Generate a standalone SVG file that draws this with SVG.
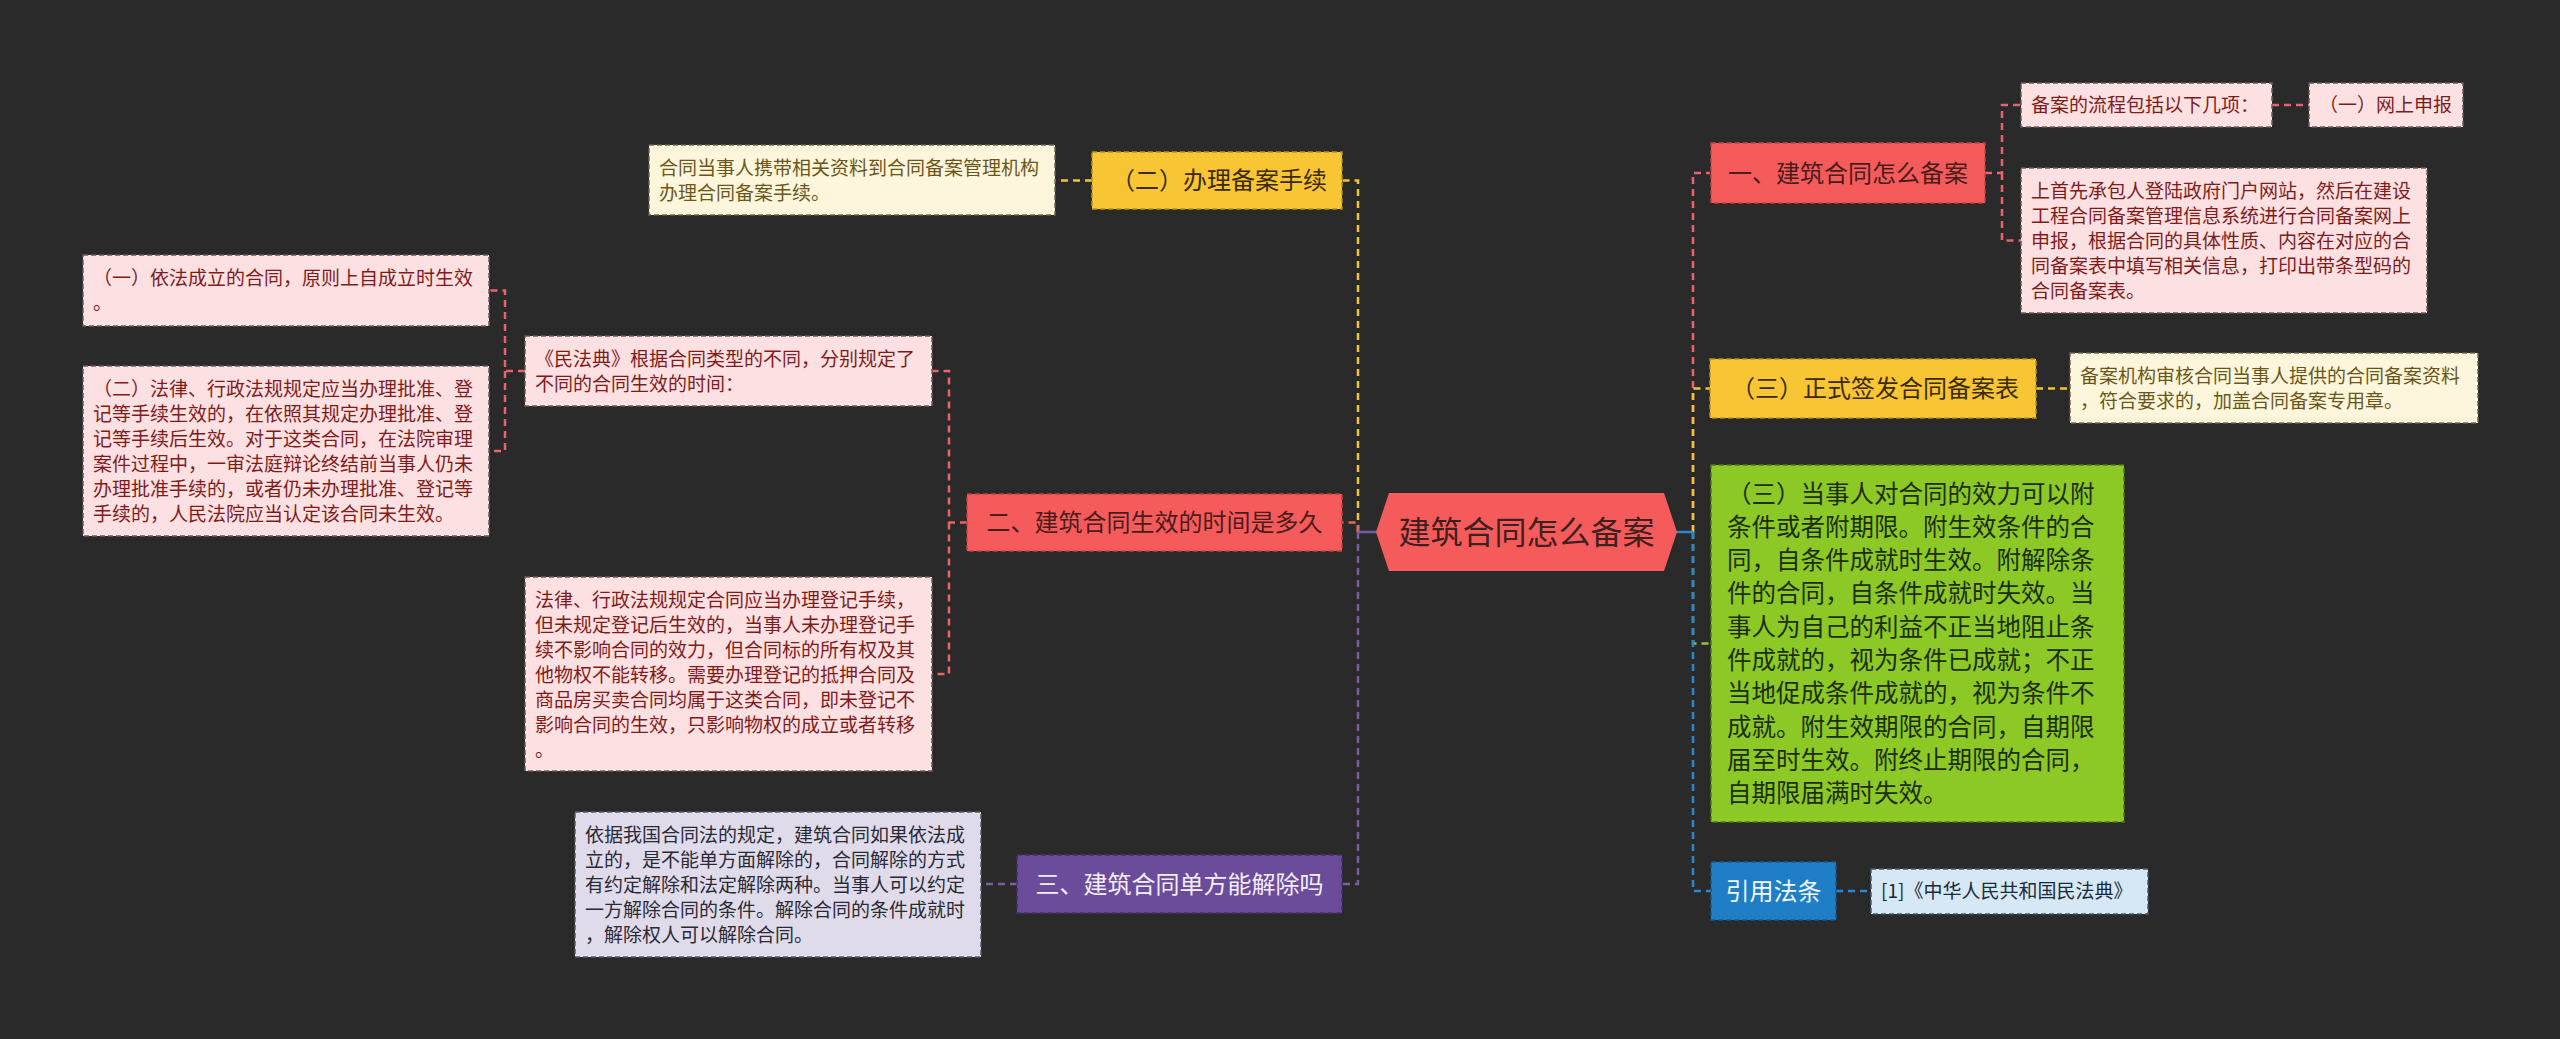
<svg xmlns="http://www.w3.org/2000/svg" width="2560" height="1039" viewBox="0 0 2560 1039">
<style>
text{font-family:"Noto Sans CJK SC","Noto Sans",sans-serif;}
.s{font-size:19px;}
.l1{font-size:24px;text-anchor:middle;}
.c{fill:none;stroke-width:2.5;stroke-dasharray:7 5;}
.cr{stroke:#e8646a;}.cy{stroke:#f2c335;}.cp{stroke:#7b5aa6;}.cg{stroke:#8cc63f;}.cb{stroke:#2a88d0;}
.pink{fill:#fde0e1;stroke:#6a5a5a;stroke-width:1.5;stroke-dasharray:5 3;}
.pt{fill:#7e1c1c;}
.cream{fill:#fdf6dc;stroke:#6a6450;stroke-width:1.5;stroke-dasharray:5 3;}
.ct{fill:#6b5618;}
.red{fill:#f65b5b;stroke:#c84040;stroke-width:1.5;stroke-dasharray:5 3;}
.rt{fill:#4a1c1c;}
.yel{fill:#f8c535;stroke:#b8901c;stroke-width:1.5;stroke-dasharray:5 3;}
.yt{fill:#3a2a05;}
</style>
<rect width="2560" height="1039" fill="#2a2a2a"/>
<g id="connectors">
<path class="c cy" d="M1358 532V180.5H1342"/>
<path class="c cr" d="M1358 532V522.5H1342"/>
<path class="c cp" d="M1358 532V884H1342"/>
<path d="M1358 532H1377" stroke="#7b5aa6" stroke-width="2.5"/>
<path class="c cy" d="M1092 180.5H1055"/>
<path class="c cr" d="M967 522.5H949V371H932M949 522.5V674H932"/>
<path class="c cr" d="M525 371H505V290.5H489M505 371V451H489"/>
<path class="c cp" d="M1017 884H981"/>
<path class="c cr" d="M1693 532V173H1710"/>
<path class="c cy" d="M1693 532V388.5H1710"/>
<path class="c cg" d="M1693 532V643.5H1711"/>
<path class="c cb" d="M1693 532V891H1711"/>
<path d="M1676 532H1693" stroke="#2a88d0" stroke-width="2.5"/>
<path class="c cr" d="M1985 173H2002V105H2021M2002 173V240.5H2021"/>
<path class="c cr" d="M2272 105H2309"/>
<path class="c cy" d="M2036 388.5H2070"/>
<path class="c cb" d="M1836 891H1871"/>
</g>
<g id="center">
<polygon points="1376,532 1389,493 1664,493 1677,532 1664,571 1389,571" fill="#f65b5b"/>
<text x="1526.5" y="543.5" font-size="32" text-anchor="middle" fill="#3d2020">建筑合同怎么备案</text>
</g>
<g id="n-banli">
<rect class="yel" x="1092" y="152" width="250" height="57"/>
<text class="l1 yt" x="1219" y="189">（二）办理备案手续</text>
</g>
<g id="n-banli-d">
<rect class="cream" x="649" y="145" width="406" height="70"/>
<text class="s ct" x="659" y="175">合同当事人携带相关资料到合同备案管理机构</text>
<text class="s ct" x="659" y="200">办理合同备案手续。</text>
</g>
<g id="n-er">
<rect class="red" x="967" y="494" width="375" height="57"/>
<text class="l1 rt" x="1154.5" y="531">二、建筑合同生效的时间是多久</text>
</g>
<g id="n-minfadian">
<rect class="pink" x="525" y="336" width="407" height="70"/>
<text class="s pt" x="535" y="366">《民法典》根据合同类型的不同，分别规定了</text>
<text class="s pt" x="535" y="391">不同的合同生效的时间：</text>
</g>
<g id="n-yi-1">
<rect class="pink" x="83" y="255" width="406" height="71"/>
<text class="s pt" x="93" y="285">（一）依法成立的合同，原则上自成立时生效</text>
<text class="s pt" x="93" y="310">。</text>
</g>
<g id="n-er-2">
<rect class="pink" x="83" y="366" width="406" height="170"/>
<text class="s pt" x="93" y="396">（二）法律、行政法规规定应当办理批准、登</text>
<text class="s pt" x="93" y="421">记等手续生效的，在依照其规定办理批准、登</text>
<text class="s pt" x="93" y="446">记等手续后生效。对于这类合同，在法院审理</text>
<text class="s pt" x="93" y="471">案件过程中，一审法庭辩论终结前当事人仍未</text>
<text class="s pt" x="93" y="496">办理批准手续的，或者仍未办理批准、登记等</text>
<text class="s pt" x="93" y="521">手续的，人民法院应当认定该合同未生效。</text>
</g>
<g id="n-dengji">
<rect class="pink" x="525" y="577" width="407" height="194"/>
<text class="s pt" x="535" y="607">法律、行政法规规定合同应当办理登记手续，</text>
<text class="s pt" x="535" y="632">但未规定登记后生效的，当事人未办理登记手</text>
<text class="s pt" x="535" y="657">续不影响合同的效力，但合同标的所有权及其</text>
<text class="s pt" x="535" y="682">他物权不能转移。需要办理登记的抵押合同及</text>
<text class="s pt" x="535" y="707">商品房买卖合同均属于这类合同，即未登记不</text>
<text class="s pt" x="535" y="732">影响合同的生效，只影响物权的成立或者转移</text>
<text class="s pt" x="535" y="757">。</text>
</g>
<g id="n-san">
<rect x="1017" y="855" width="325" height="58" fill="#6b4c9b" stroke="#4a3070" stroke-width="1.5" stroke-dasharray="5 3"/>
<text class="l1" x="1179.5" y="893" fill="#f4eefa">三、建筑合同单方能解除吗</text>
</g>
<g id="n-san-d">
<rect x="575" y="812" width="406" height="145" fill="#dfdbea" stroke="#5a5a66" stroke-width="1.5" stroke-dasharray="5 3"/>
<text class="s" fill="#2a2a35" x="585" y="842">依据我国合同法的规定，建筑合同如果依法成</text>
<text class="s" fill="#2a2a35" x="585" y="867">立的，是不能单方面解除的，合同解除的方式</text>
<text class="s" fill="#2a2a35" x="585" y="892">有约定解除和法定解除两种。当事人可以约定</text>
<text class="s" fill="#2a2a35" x="585" y="917">一方解除合同的条件。解除合同的条件成就时</text>
<text class="s" fill="#2a2a35" x="585" y="942">，解除权人可以解除合同。</text>
</g>
<g id="n-yi">
<rect class="red" x="1711" y="143" width="274" height="60"/>
<text class="l1 rt" x="1848" y="182">一、建筑合同怎么备案</text>
</g>
<g id="n-liucheng">
<rect class="pink" x="2021" y="83" width="251" height="44"/>
<text class="s pt" x="2031" y="112">备案的流程包括以下几项：</text>
</g>
<g id="n-wangshang">
<rect class="pink" x="2309" y="83" width="154" height="44"/>
<text class="s pt" x="2319" y="112">（一）网上申报</text>
</g>
<g id="n-shouxian">
<rect class="pink" x="2021" y="168" width="406" height="145"/>
<text class="s pt" x="2031" y="198">上首先承包人登陆政府门户网站，然后在建设</text>
<text class="s pt" x="2031" y="223">工程合同备案管理信息系统进行合同备案网上</text>
<text class="s pt" x="2031" y="248">申报，根据合同的具体性质、内容在对应的合</text>
<text class="s pt" x="2031" y="273">同备案表中填写相关信息，打印出带条型码的</text>
<text class="s pt" x="2031" y="298">合同备案表。</text>
</g>
<g id="n-qianfa">
<rect class="yel" x="1710" y="359" width="326" height="59"/>
<text class="l1 yt" x="1875" y="397">（三）正式签发合同备案表</text>
</g>
<g id="n-qianfa-d">
<rect class="cream" x="2070" y="353" width="408" height="70"/>
<text class="s ct" x="2080" y="383">备案机构审核合同当事人提供的合同备案资料</text>
<text class="s ct" x="2080" y="408">，符合要求的，加盖合同备案专用章。</text>
</g>
<g id="n-tiaojian" font-size="24.5" fill="#1c2e0c">
<rect x="1711" y="465" width="413" height="357" fill="#8cc826" stroke="#4e7a14" stroke-width="1.5" stroke-dasharray="5 3"/>
<text x="1727" y="502.5">（三）当事人对合同的效力可以附</text>
<text x="1727" y="535.8">条件或者附期限。附生效条件的合</text>
<text x="1727" y="569.1">同，自条件成就时生效。附解除条</text>
<text x="1727" y="602.4">件的合同，自条件成就时失效。当</text>
<text x="1727" y="635.7">事人为自己的利益不正当地阻止条</text>
<text x="1727" y="669">件成就的，视为条件已成就；不正</text>
<text x="1727" y="702.3">当地促成条件成就的，视为条件不</text>
<text x="1727" y="735.6">成就。附生效期限的合同，自期限</text>
<text x="1727" y="768.9">届至时生效。附终止期限的合同，</text>
<text x="1727" y="802.2">自期限届满时失效。</text>
</g>
<g id="n-yinyong">
<rect x="1711" y="862" width="125" height="58" fill="#1f7ec6" stroke="#145a92" stroke-width="1.5" stroke-dasharray="5 3"/>
<text class="l1" x="1773.5" y="900" fill="#f2f8ff">引用法条</text>
</g>
<g id="n-minfadian-ref">
<rect x="1871" y="869" width="277" height="45" fill="#d6e8f6" stroke="#4a5a6a" stroke-width="1.5" stroke-dasharray="5 3"/>
<text class="s" x="1881" y="898" fill="#1a2a3a">[1]《中华人民共和国民法典》</text>
</g>
</svg>
